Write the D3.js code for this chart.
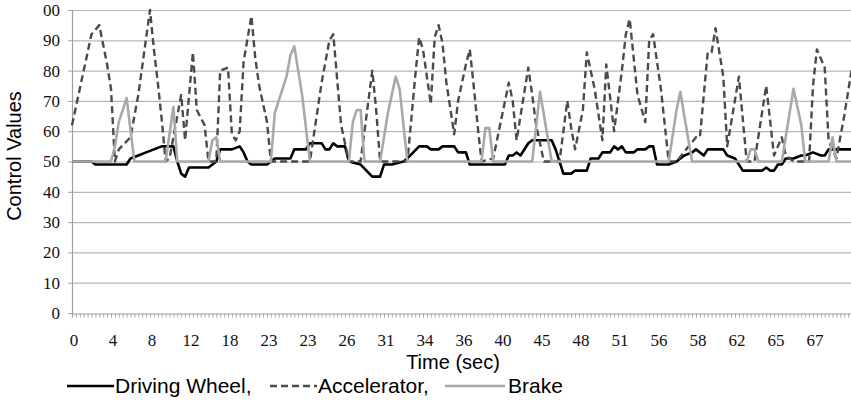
<!DOCTYPE html>
<html>
<head>
<meta charset="utf-8">
<script src="https://cdn.jsdelivr.net/npm/d3@7"></script>
<style>
  body { margin: 0; background: #fff; }
  svg { display: block; }
</style>
</head>
<body>
<svg id="chart" width="851" height="404"></svg>
<script>
// time labels, one every 10 samples
const timeLabels = ['0', '4', '8', '12', '18', '23', '23', '26', '31', '34',
  '36', '40', '45', '48', '51', '56', '58', '62', '65', '67'];
const sampleCount = 200;
const yTicks = [0, 10, 20, 30, 40, 50, 60, 70, 80, 90, 100];

// [sample, value] pairs
const drivingWheel = [[0,50],[5,50],[6,49],[14,49],[15,51],[17,52],[19,53],[21,54],[23,55],[26,55],[27,50],[28,46],[29,45],[30,48],[35,48],[37,50],[38,54],[41,54],[43,55],[44,53],[45,50],[46,49],[50,49],[51,50],[52,51],[56,51],[57,54],[60,54],[61,56],[64,56],[65,54],[66,54],[67,56],[68,55],[70,55],[71,50],[74,49],[77,45],[79,45],[80,49],[82,49],[85,50],[86,51],[89,55],[91,55],[92,54],[94,54],[95,55],[98,55],[99,53],[101,53],[102,49],[111,49],[112,52],[113,52],[114,53],[115,52],[117,56],[118,57],[123,57],[124,54],[126,46],[128,46],[129,47],[132,47],[133,51],[135,51],[136,53],[138,53],[139,55],[140,54],[141,55],[142,53],[144,53],[145,54],[147,54],[148,55],[149,55],[150,49],[153,49],[155,50],[157,52],[159,53],[160,54],[162,52],[163,54],[167,54],[168,52],[170,51],[172,47],[177,47],[178,48],[179,47],[180,47],[181,49],[182,49],[183,51],[185,51],[187,52],[188,52],[190,53],[192,52],[193,52],[194,54],[200,54]];

const accelerator = [[0,62],[5,92],[7,95],[9,82],[10,74],[11,50],[12,54],[15,58],[17,72],[20,100],[21,87],[22,76],[23,64],[24,50],[25,51],[28,72],[29,57],[31,86],[32,67],[34,62],[35,50],[37,50],[38,80],[40,81],[41,59],[42,57],[43,60],[44,83],[46,98],[47,84],[48,75],[49,69],[50,63],[51,50],[61,50],[64,76],[66,90],[67,92],[69,62],[71,50],[74,50],[77,80],[78,67],[79,50],[86,50],[88,78],[89,91],[90,87],[92,69],[93,91],[94,95],[95,89],[96,76],[98,59],[99,70],[101,82],[102,87],[103,75],[104,62],[105,50],[108,51],[112,76],[113,70],[114,57],[117,81],[118,72],[119,62],[121,50],[125,50],[127,70],[128,61],[129,54],[131,67],[132,86],[134,74],[136,57],[137,82],[139,60],[141,80],[142,92],[143,97],[145,72],[147,63],[148,90],[149,92],[151,74],[153,50],[155,50],[160,58],[161,58],[163,86],[164,86],[165,94],[167,78],[168,55],[171,78],[173,50],[175,50],[178,75],[180,52],[182,58],[183,52],[185,50],[189,50],[190,75],[191,87],[193,81],[194,57],[196,51],[198,65],[200,81]];

const brake = [[0,50],[10,50],[11,55],[12,63],[14,71],[16,50],[24,50],[26,68],[27,50],[35,50],[36,57],[37,58],[38,50],[51,50],[52,66],[55,78],[56,85],[57,88],[59,72],[61,50],[71,50],[72,63],[73,67],[74,67],[75,50],[79,50],[81,66],[83,78],[84,74],[86,50],[105,50],[106,61],[107,61],[108,50],[118,50],[120,73],[123,50],[153,50],[155,67],[156,73],[157,65],[159,50],[173,50],[174,54],[175,54],[176,50],[182,50],[184,66],[185,74],[187,62],[188,50],[194,50],[195,58],[196,50],[200,50]];

const seriesNames = ['Driving Wheel,', 'Accelerator,', 'Brake'];

const svg = d3.select('#chart');
const margin = { top: 10, left: 72, bottom: 91 };
const height = 404;
const step = 3.9;

const serif = 'Liberation Serif';
const sans = 'Liberation Sans';

const x = d3.scaleLinear()
  .domain([0, sampleCount])
  .range([margin.left, margin.left + sampleCount * step]);
const y = d3.scaleLinear()
  .domain([0, 100])
  .range([height - margin.bottom, margin.top]);

// horizontal grid
svg.append('g')
  .selectAll('line')
  .data(yTicks.filter((d) => d > 0))
  .join('line')
  .attr('x1', x(0))
  .attr('x2', 851)
  .attr('y1', (d) => y(d) + 0.5)
  .attr('y2', (d) => y(d) + 0.5)
  .attr('stroke', '#b8b8b8')
  .attr('stroke-width', 1.2);

// y axis
const yAxis = svg.append('g')
  .attr('transform', `translate(${x(0)},0)`)
  .call(d3.axisLeft(y).tickValues(yTicks).tickSize(4)
    .tickFormat((d) => (d === 100 ? '00' : d)))
  .attr('font-family', serif)
  .attr('font-size', 17);
yAxis.select('.domain').attr('stroke', '#a0a0a0').attr('stroke-width', 1.2);
yAxis.selectAll('.tick line').attr('stroke', '#a0a0a0');
yAxis.selectAll('text')
  .attr('x', -12)
  .attr('fill', '#111');

// x axis: minor ticks at each sample
const xAxis = svg.append('g')
  .attr('transform', `translate(0,${y(0) + 0.5})`)
  .call(d3.axisBottom(x).tickValues(d3.range(0, sampleCount + 1)).tickSize(4).tickFormat(''));
xAxis.select('.domain').attr('stroke', '#a0a0a0').attr('stroke-width', 1.2);
xAxis.selectAll('.tick line').attr('stroke', '#a8a8a8');

svg.append('g')
  .attr('font-family', serif)
  .attr('font-size', 17)
  .selectAll('text')
  .data(timeLabels)
  .join('text')
  .attr('x', (d, i) => x(i * 10) + 2)
  .attr('y', y(0) + 33)
  .attr('text-anchor', 'middle')
  .attr('fill', '#111')
  .text((d) => d);

// axis titles
svg.append('text')
  .attr('transform', `translate(21,156) rotate(-90)`)
  .attr('text-anchor', 'middle')
  .attr('font-family', sans)
  .attr('font-size', 20)
  .text('Control Values');

svg.append('text')
  .attr('x', 453)
  .attr('y', 369)
  .attr('text-anchor', 'middle')
  .attr('font-family', sans)
  .attr('font-size', 20)
  .text('Time (sec)');

// lines
const line = d3.line()
  .x((d) => x(d[0]))
  .y((d) => y(d[1]));

const styles = [
  { data: drivingWheel, color: '#000', width: 2.6, dash: null },
  { data: accelerator, color: '#4a4a4a', width: 2.4, dash: '7,4' },
  { data: brake, color: '#a9a9a9', width: 2.6, dash: null }
];

svg.append('g')
  .selectAll('path')
  .data(styles)
  .join('path')
  .attr('d', (d) => line(d.data))
  .attr('fill', 'none')
  .attr('stroke', (d) => d.color)
  .attr('stroke-width', (d) => d.width)
  .attr('stroke-dasharray', (d) => d.dash)
  .attr('stroke-linejoin', 'round');

// legend
const legendPos = [67, 270, 445];
const legend = svg.append('g')
  .selectAll('g')
  .data(styles)
  .join('g')
  .attr('transform', (d, i) => `translate(${legendPos[i]},386)`);

legend.append('line')
  .attr('x1', 0)
  .attr('x2', (d, i) => (i === 2 ? 60 : 47))
  .attr('stroke', (d) => d.color)
  .attr('stroke-width', (d) => d.width)
  .attr('stroke-dasharray', (d) => d.dash);

legend.append('text')
  .attr('x', (d, i) => (i === 2 ? 63 : 48))
  .attr('y', 7)
  .attr('font-family', sans)
  .attr('font-size', 21)
  .text((d, i) => seriesNames[i]);
</script>
</body>
</html>
